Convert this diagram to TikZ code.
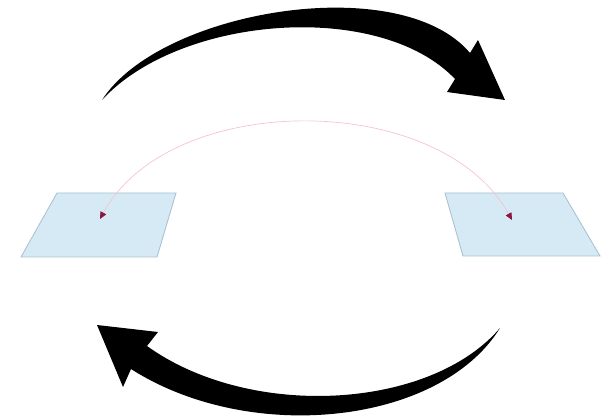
\documentclass[tikz,border=0pt]{standalone}
\usepackage{tikz}
\usetikzlibrary{arrows.meta}
\definecolor{planefill}{RGB}{214,234,246}
\definecolor{planeline}{RGB}{168,192,208}
\definecolor{pathpink}{RGB}{244,196,206}
\definecolor{markred}{RGB}{140,22,62}
\begin{document}
\begin{tikzpicture}[x=0.025cm, y=-0.025cm,
  plane/.style={fill=planefill, draw=planeline, line width=0.6pt},
  bigarrow/.style={fill=black, draw=none},
  track/.style={draw=pathpink, line width=0.5pt,
    {Triangle[length=5pt, width=4.5pt, color=markred]}-{Triangle[length=5pt, width=4.5pt, color=markred]}},
]
  \useasboundingbox (0,0) rectangle (610,418);

  % source and target planes
  \draw[plane] (57,193) -- (176,193) -- (157,257) -- (21,257) -- cycle;
  \draw[plane] (445,193) -- (563,193) -- (600,256) -- (463,256) -- cycle;
  \coordinate (src) at (100,219);
  \coordinate (dst) at (512,220);

  \draw[track] (src) .. controls (170,90) and (440,90) .. (dst);

  % forward arrow
  \fill[bigarrow] (102,100) .. controls (160,10) and (400,-30) .. (470,53)
    -- (478,40) -- (505,100) -- (447,92) -- (455,79)
    .. controls (380,0) and (180,15) .. (102,100) -- cycle;

  % backward arrow
  \fill[bigarrow] (500,328) .. controls (430,410) and (250,420) .. (147,346)
    -- (158,332) -- (97,325) -- (123,387) -- (131,369)
    .. controls (250,445) and (440,425) .. (500,328) -- cycle;
\end{tikzpicture}
\end{document}
